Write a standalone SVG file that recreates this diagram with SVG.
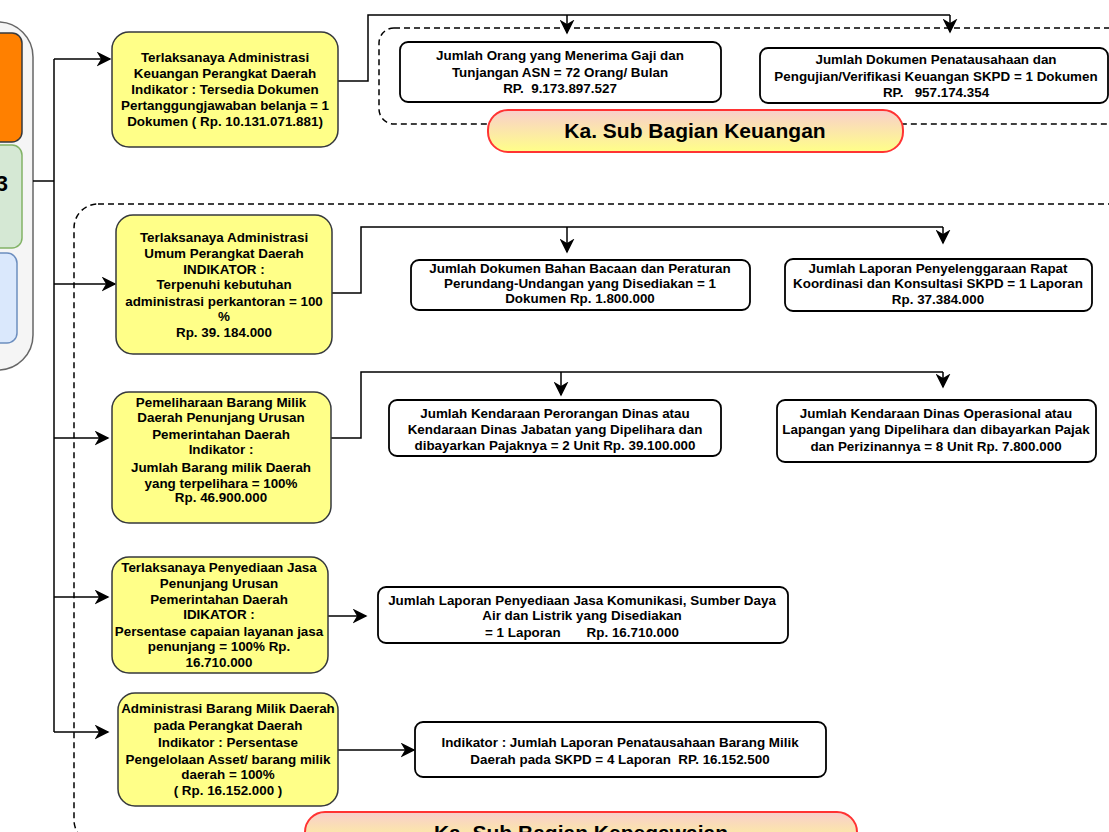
<svg xmlns="http://www.w3.org/2000/svg" width="1109" height="832" viewBox="0 0 1109 832">
<defs>
<marker id="arrL" viewBox="0 0 10 10" refX="9" refY="5" markerWidth="15" markerHeight="15" markerUnits="userSpaceOnUse" orient="auto">
<path d="M0,0 L10,5 L0,10 L3,5 Z" fill="#000"/>
</marker>
<linearGradient id="pill" x1="0" y1="0" x2="0" y2="1">
<stop offset="0" stop-color="#f8cecc"/>
<stop offset="1" stop-color="#ffff88"/>
</linearGradient>
</defs>
<style>
.y{fill:#ffff88;stroke:#36393d;stroke-width:1.5}
.r{fill:#fff;stroke:#000;stroke-width:1.8}
.d{fill:none;stroke:#000;stroke-width:1.5;stroke-dasharray:6 4}
.c{fill:none;stroke:#000;stroke-width:1.5}
.p{fill:url(#pill);stroke:#ff3333;stroke-width:2}
text{font-family:"Liberation Sans",Arial,sans-serif;font-weight:bold;fill:#000}
.t{font-size:13.4px;text-anchor:middle;white-space:pre}
.h{font-size:21px;text-anchor:middle}
</style>
<rect width="1109" height="832" fill="#fff"/>

<g id="containers">
<rect class="d" x="379" y="28" width="760" height="96" rx="15"/>
<rect class="d" x="74" y="204" width="1060" height="640" rx="24"/>
</g>

<g id="left-panel">
<rect x="-40" y="22" width="73" height="348" rx="35" fill="#f5f5f5" stroke="#666" stroke-width="1.5"/>
<rect x="-30" y="33" width="52" height="109" rx="10" fill="#ff8000" stroke="#36393d" stroke-width="1.5"/>
<rect x="-30" y="145" width="52" height="103" rx="10" fill="#d5e8d4" stroke="#82b366" stroke-width="1.5"/>
<rect x="-30" y="253" width="47" height="90" rx="10" fill="#dae8fc" stroke="#6c8ebf" stroke-width="1.5"/>
<text x="8" y="191" font-size="22" text-anchor="end">3</text>
</g>

<g id="connectors">
<polyline class="c" points="33,181 54,181"/>
<polyline class="c" points="54,59 54,732"/>
<line class="c" x1="54" y1="59" x2="110" y2="59" marker-end="url(#arrL)"/>
<line class="c" x1="54" y1="284" x2="115" y2="284" marker-end="url(#arrL)"/>
<line class="c" x1="54" y1="438" x2="108" y2="438" marker-end="url(#arrL)"/>
<line class="c" x1="54" y1="597" x2="108" y2="597" marker-end="url(#arrL)"/>
<line class="c" x1="54" y1="732" x2="108" y2="732" marker-end="url(#arrL)"/>

<polyline class="c" points="338,81 368,81 368,15 950,15"/>
<line class="c" x1="567" y1="15" x2="567" y2="33" marker-end="url(#arrL)"/>
<line class="c" x1="950" y1="15" x2="950" y2="32" marker-end="url(#arrL)"/>

<polyline class="c" points="331,293 361,293 361,227 943,227"/>
<line class="c" x1="567" y1="227" x2="567" y2="252" marker-end="url(#arrL)"/>
<line class="c" x1="943" y1="227" x2="943" y2="243" marker-end="url(#arrL)"/>

<polyline class="c" points="331,438 361,438 361,372 943,372"/>
<line class="c" x1="561" y1="372" x2="561" y2="395" marker-end="url(#arrL)"/>
<line class="c" x1="943" y1="372" x2="943" y2="387" marker-end="url(#arrL)"/>

<line class="c" x1="328" y1="616" x2="366" y2="616" marker-end="url(#arrL)"/>
<line class="c" x1="338" y1="750" x2="414" y2="750" marker-end="url(#arrL)"/>
</g>

<g id="y1">
<rect class="y" x="112" y="32" width="226" height="115" rx="17"/>
<text class="t"><tspan x="225" y="62">Terlaksanaya Administrasi</tspan><tspan x="225" y="78">Keuangan Perangkat Daerah</tspan><tspan x="225" y="94">Indikator : Tersedia Dokumen</tspan><tspan x="225" y="110">Pertanggungjawaban belanja = 1</tspan><tspan x="225" y="126">Dokumen ( Rp. 10.131.071.881)</tspan></text>
</g>

<g id="y2">
<rect class="y" x="116" y="215" width="216" height="139" rx="17"/>
<text class="t"><tspan x="224" y="242">Terlaksanaya Administrasi</tspan><tspan x="224" y="258">Umum Perangkat Daerah</tspan><tspan x="224" y="274">INDIKATOR :</tspan><tspan x="224" y="289">Terpenuhi kebutuhan</tspan><tspan x="224" y="306">administrasi perkantoran = 100</tspan><tspan x="224" y="321">%</tspan><tspan x="224" y="337">Rp. 39. 184.000</tspan></text>
</g>

<g id="y3">
<rect class="y" x="112" y="392" width="219" height="131" rx="17"/>
<text class="t"><tspan x="221" y="407">Pemeliharaan Barang Milik</tspan><tspan x="221" y="422">Daerah Penunjang Urusan</tspan><tspan x="221" y="439">Pemerintahan Daerah</tspan><tspan x="221" y="454">Indikator :</tspan><tspan x="221" y="472">Jumlah Barang milik Daerah</tspan><tspan x="221" y="488">yang terpelihara = 100%</tspan><tspan x="221" y="502">Rp. 46.900.000</tspan></text>
</g>

<g id="y4">
<rect class="y" x="112" y="557" width="216" height="116" rx="17"/>
<text class="t"><tspan x="219" y="572">Terlaksanaya Penyediaan Jasa</tspan><tspan x="219" y="588">Penunjang Urusan</tspan><tspan x="219" y="604">Pemerintahan Daerah</tspan><tspan x="219" y="619">IDIKATOR :</tspan><tspan x="219" y="636">Persentase capaian layanan jasa</tspan><tspan x="219" y="651">penunjang = 100% Rp.</tspan><tspan x="219" y="667">16.710.000</tspan></text>
</g>

<g id="y5">
<rect class="y" x="118" y="693" width="220" height="113" rx="17"/>
<text class="t"><tspan x="228" y="713">Administrasi Barang Milik Daerah</tspan><tspan x="228" y="730">pada Perangkat Daerah</tspan><tspan x="228" y="747">Indikator : Persentase</tspan><tspan x="228" y="764">Pengelolaan Asset/ barang milik</tspan><tspan x="228" y="779">daerah = 100%</tspan><tspan x="228" y="795">( Rp. 16.152.000 )</tspan></text>
</g>

<g id="r1">
<rect class="r" x="400" y="42" width="321" height="60" rx="8"/>
<text class="t"><tspan x="560" y="60">Jumlah Orang yang Menerima Gaji dan</tspan><tspan x="560" y="77">Tunjangan ASN = 72 Orang/ Bulan</tspan><tspan x="560" y="93">RP.  9.173.897.527</tspan></text>
</g>

<g id="r2">
<rect class="r" x="760" y="48" width="348" height="55" rx="8"/>
<text class="t"><tspan x="936" y="64">Jumlah Dokumen Penatausahaan dan</tspan><tspan x="936" y="81">Pengujian/Verifikasi Keuangan SKPD = 1 Dokumen</tspan><tspan x="936" y="97">RP.   957.174.354</tspan></text>
</g>

<g id="pill-keuangan">
<rect class="p" x="488" y="110" width="415" height="42" rx="20"/>
<text class="h" x="695" y="138">Ka. Sub Bagian Keuangan</text>
</g>

<g id="r3">
<rect class="r" x="411" y="260" width="339" height="50" rx="8"/>
<text class="t"><tspan x="580" y="273">Jumlah Dokumen Bahan Bacaan dan Peraturan</tspan><tspan x="580" y="288">Perundang-Undangan yang Disediakan = 1</tspan><tspan x="580" y="303">Dokumen Rp. 1.800.000</tspan></text>
</g>

<g id="r4">
<rect class="r" x="785" y="259" width="307" height="52" rx="8"/>
<text class="t"><tspan x="938" y="273">Jumlah Laporan Penyelenggaraan Rapat</tspan><tspan x="938" y="288">Koordinasi dan Konsultasi SKPD = 1 Laporan</tspan><tspan x="938" y="304">Rp. 37.384.000</tspan></text>
</g>

<g id="r5">
<rect class="r" x="389" y="400" width="332" height="56" rx="8"/>
<text class="t"><tspan x="555" y="418">Jumlah Kendaraan Perorangan Dinas atau</tspan><tspan x="555" y="434">Kendaraan Dinas Jabatan yang Dipelihara dan</tspan><tspan x="555" y="450">dibayarkan Pajaknya = 2 Unit Rp. 39.100.000</tspan></text>
</g>

<g id="r6">
<rect class="r" x="777" y="400" width="319" height="62" rx="8"/>
<text class="t"><tspan x="936" y="418">Jumlah Kendaraan Dinas Operasional atau</tspan><tspan x="936" y="434">Lapangan yang Dipelihara dan dibayarkan Pajak</tspan><tspan x="936" y="451">dan Perizinannya = 8 Unit Rp. 7.800.000</tspan></text>
</g>

<g id="r7">
<rect class="r" x="378" y="587" width="410" height="56" rx="8"/>
<text class="t"><tspan x="582" y="605">Jumlah Laporan Penyediaan Jasa Komunikasi, Sumber Daya</tspan><tspan x="582" y="620">Air dan Listrik yang Disediakan</tspan><tspan x="582" y="637">= 1 Laporan       Rp. 16.710.000</tspan></text>
</g>

<g id="r8">
<rect class="r" x="415" y="722" width="411" height="55" rx="8"/>
<text class="t"><tspan x="620" y="747">Indikator : Jumlah Laporan Penatausahaan Barang Milik</tspan><tspan x="620" y="764">Daerah pada SKPD = 4 Laporan  RP. 16.152.500</tspan></text>
</g>

<g id="pill-kepegawaian">
<rect class="p" x="305" y="812" width="552" height="42" rx="20"/>
<text class="h" x="581" y="840">Ka. Sub Bagian Kepegawaian</text>
</g>
</svg>
